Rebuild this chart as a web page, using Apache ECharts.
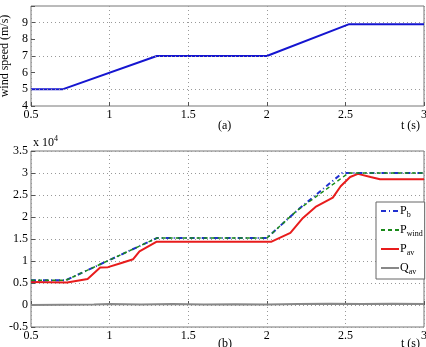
<!DOCTYPE html>
<html>
<head>
<meta charset="utf-8">
<script src="https://cdn.jsdelivr.net/npm/echarts@6/dist/echarts.min.js"></script>
<style>
  html, body { margin: 0; padding: 0; background: #fff; }
  #chart { width: 426px; height: 347px; }
</style>
</head>
<body>
<div id="chart"></div>
<script>
// 时间轴刻度
var tTicks = [0.5, 1, 1.5, 2, 2.5, 3];

// (a) 风速
var windT = [0.5, 0.7, 1.3, 2.0, 2.52, 3.0];
var windV = [5, 5, 7, 7, 8.9, 8.9];
var windGrid = [5, 7, 9];

// (b) 功率 (W / Var)
var pbT = [0.5, 0.72, 1.3, 2.0, 2.19, 2.48, 3.0];
var pbV = [5600, 5600, 15200, 15200, 21400, 30000, 30000];
var pwT = [0.5, 0.72, 1.3, 2.0, 2.19, 2.52, 3.0];
var pwV = [5600, 5600, 15200, 15200, 21400, 30000, 30000];
var pavT = [0.5, 0.73, 0.86, 0.94, 0.99, 1.07, 1.15, 1.19, 1.30, 2.03, 2.15, 2.23, 2.31, 2.42, 2.47, 2.53, 2.58, 2.66, 2.72, 3.0];
var pavV = [5200, 5100, 5900, 8500, 8600, 9500, 10400, 12200, 14400, 14400, 16400, 19800, 22300, 24400, 27000, 29100, 29800, 29100, 28600, 28600];
var qavT = [0.5, 0.7, 0.9, 1.0, 1.2, 1.4, 1.6, 1.8, 2.0, 2.2, 2.4, 2.6, 2.8, 3.0];
var qavV = [0, 50, 100, 200, 100, 200, 100, 150, 100, 200, 300, 200, 300, 200];

function zip(a, b) {
  return a.map(function (t, i) { return [t, b[i]]; });
}

var serif = "Liberation Serif";
var chart = echarts.init(document.getElementById("chart"));

var xAxisBase = {
  type: "value",
  min: tTicks[0],
  max: tTicks[tTicks.length - 1],
  interval: 0.5,
  axisLine: { show: false },
  axisTick: { show: true, inside: true, length: 4, lineStyle: { color: "#555" } },
  axisLabel: { color: "#000", fontFamily: serif, fontSize: 12, margin: 3 },
  splitLine: { show: true, lineStyle: { color: "#999", type: [1, 3], width: 1 } }
};

var gridBase = {
  left: 31,
  right: 2,
  outerBoundsMode: "none",
  containLabel: false,
  show: true,
  borderColor: "#777",
  borderWidth: 1,
  backgroundColor: "transparent"
};

chart.setOption({
  animation: false,
  grid: [
    Object.assign({ top: 6, height: 100 }, gridBase),
    Object.assign({ top: 151, height: 176 }, gridBase)
  ],
  xAxis: [
    Object.assign({ gridIndex: 0 }, xAxisBase),
    Object.assign({ gridIndex: 1 }, xAxisBase)
  ],
  yAxis: [
    {
      gridIndex: 0,
      type: "value",
      min: 4,
      max: 10,
      interval: 1,
      name: "wind speed (m/s)",
      nameLocation: "middle",
      nameGap: 15,
      nameTextStyle: { fontFamily: serif, fontSize: 12, color: "#000" },
      axisLine: { show: false },
      axisTick: { show: true, inside: true, length: 4, lineStyle: { color: "#555" } },
      axisLabel: {
        color: "#000", fontFamily: serif, fontSize: 12, margin: 3,
        formatter: function (v) { return v === 10 ? "" : v; }
      },
      splitLine: { show: false }
    },
    {
      gridIndex: 1,
      type: "value",
      min: -5000,
      max: 35000,
      interval: 5000,
      name: "P(W) Q(Var)",
      nameLocation: "middle",
      nameGap: 22,
      nameTextStyle: { fontFamily: serif, fontSize: 12, color: "#000" },
      axisLine: { show: false },
      axisTick: { show: true, inside: true, length: 4, lineStyle: { color: "#555" } },
      axisLabel: {
        color: "#000", fontFamily: serif, fontSize: 12, margin: 3,
        formatter: function (v) { return String(v / 10000); }
      },
      splitLine: { show: true, lineStyle: { color: "#999", type: [1, 3], width: 1 } }
    }
  ],
  // 图例: P_b, P_wind, P_av, Q_av  (只画线,不画圆点)
  legend: {
    orient: "vertical",
    left: 376,
    top: 202,
    width: 48,
    backgroundColor: "#fff",
    borderColor: "#666",
    borderWidth: 1,
    padding: [3, 2, 3, 4],
    itemWidth: 18,
    itemHeight: 10,
    itemGap: 5,
    itemStyle: { opacity: 0 },
    data: ["Pb", "Pwind", "Pav", "Qav"],
    formatter: function (name) {
      return "{m|" + name.charAt(0) + "}{s|" + name.slice(1) + "}";
    },
    textStyle: {
      padding: [0, 0, 0, -4],
      rich: {
        m: { fontFamily: serif, fontSize: 12, color: "#000" },
        s: { fontFamily: serif, fontSize: 8, color: "#000", padding: [8, 0, 0, 0] }
      }
    }
  },
  graphic: [
    { type: "text", left: 218, top: 120, style: { text: "(a)", font: "12px " + serif, fill: "#000" } },
    { type: "text", left: 401, top: 120, style: { text: "t (s)", font: "12px " + serif, fill: "#000" } },
    { type: "text", left: 218, top: 338, style: { text: "(b)", font: "12px " + serif, fill: "#000" } },
    { type: "text", left: 401, top: 338, style: { text: "t (s)", font: "12px " + serif, fill: "#000" } },
    {
      type: "text", left: 33, top: 135,
      style: {
        text: "{a|x 10}{b|4}",
        rich: {
          a: { font: "12px " + serif, fill: "#000" },
          b: { font: "8px " + serif, fill: "#000", padding: [0, 0, 8, 0] }
        }
      }
    }
  ],
  series: [
    {
      name: "wind",
      type: "line",
      xAxisIndex: 0,
      yAxisIndex: 0,
      symbol: "none",
      lineStyle: { color: "#1515d0", width: 2 },
      data: zip(windT, windV),
      markLine: {
        silent: true,
        symbol: "none",
        label: { show: false },
        lineStyle: { color: "#999", type: [1, 3], width: 1 },
        data: windGrid.map(function (v) { return { yAxis: v }; })
      },
      z: 3
    },
    {
      name: "Qav",
      type: "line",
      xAxisIndex: 1,
      yAxisIndex: 1,
      symbol: "none",
      itemStyle: { color: "#888" },
      lineStyle: { color: "#888", width: 2 },
      data: zip(qavT, qavV)
    },
    {
      name: "Pav",
      type: "line",
      xAxisIndex: 1,
      yAxisIndex: 1,
      symbol: "none",
      itemStyle: { color: "#e81c1c" },
      lineStyle: { color: "#e81c1c", width: 2 },
      data: zip(pavT, pavV)
    },
    {
      name: "Pb",
      type: "line",
      xAxisIndex: 1,
      yAxisIndex: 1,
      symbol: "none",
      itemStyle: { color: "#2030d0" },
      lineStyle: { color: "#2030d0", width: 2, type: [5, 3, 1, 3] },
      data: zip(pbT, pbV)
    },
    {
      name: "Pwind",
      type: "line",
      xAxisIndex: 1,
      yAxisIndex: 1,
      symbol: "none",
      itemStyle: { color: "#1a8a1a" },
      lineStyle: { color: "#1a8a1a", width: 1.5, type: [4, 3] },
      data: zip(pwT, pwV)
    }
  ]
});
</script>
</body>
</html>
